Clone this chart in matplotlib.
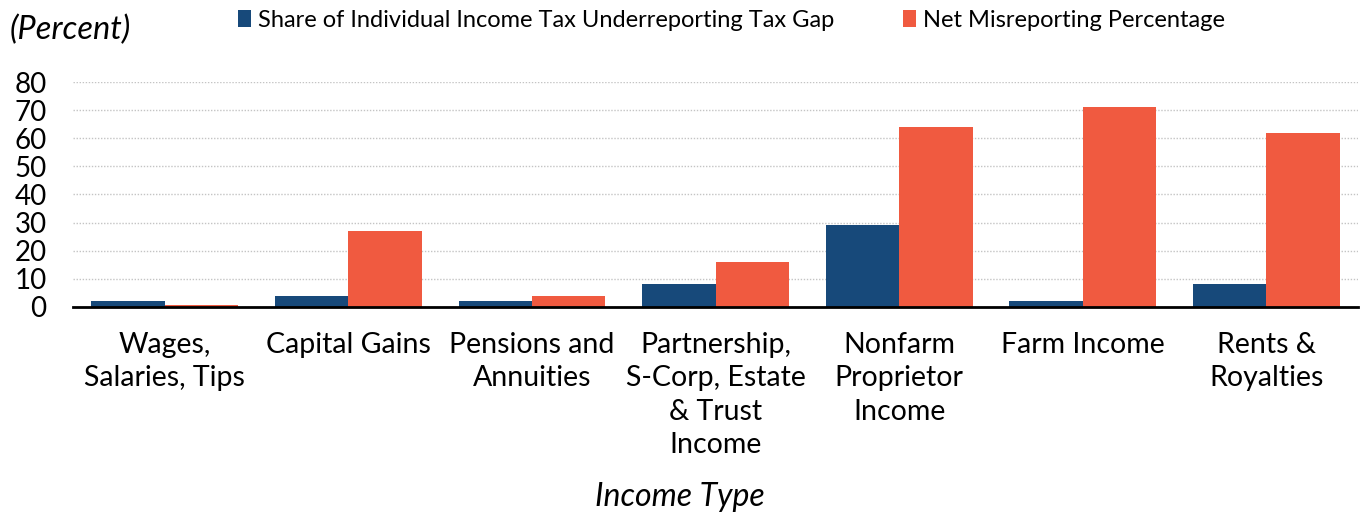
import matplotlib.pyplot as plt
import numpy as np

plt.rcParams['font.family'] = ['Lato', 'DejaVu Sans']

# Data
categories = ['Wages,\nSalaries, Tips', 'Capital Gains', 'Pensions and\nAnnuities',
              'Partnership,\nS-Corp, Estate\n& Trust\nIncome', 'Nonfarm\nProprietor\nIncome',
              'Farm Income', 'Rents &\nRoyalties']
share_gap = [2, 4, 2, 8, 29, 2, 8]
net_misreporting = [0.6, 27, 4, 16, 64, 71, 62]
yticks = [0, 10, 20, 30, 40, 50, 60, 70, 80]

blue = '#17497A'
red = '#F05A40'

fig = plt.figure(figsize=(13.7, 5.19), dpi=100)
ax = fig.add_axes([0.0533, 0.4085, 0.938, 0.4335])

x = np.arange(len(categories))
w = 0.4
b1 = ax.bar(x - w / 2, share_gap, w, color=blue,
            label='Share of Individual Income Tax Underreporting Tax Gap')
b2 = ax.bar(x + w / 2, net_misreporting, w, color=red, label='Net Misreporting Percentage')

ax.set_xlim(-0.5, 6.5)
ax.set_ylim(0, 80)
ax.set_yticks(yticks)
ax.set_xticks(x)
ax.set_xticklabels(categories, fontsize=20.5, linespacing=1.35, va='top')
ax.tick_params(axis='x', length=0, pad=18)
ax.tick_params(axis='y', length=0, pad=19, labelsize=20)

ax.yaxis.grid(True, linestyle=(0, (1, 1.2)), color='#C4C4C4', linewidth=1)
ax.set_axisbelow(True)
for s in ['top', 'right', 'left']:
    ax.spines[s].set_visible(False)
ax.spines['bottom'].set_linewidth(2)
ax.spines['bottom'].set_color('black')

fig.text(0.496, 0.042, 'Income Type', fontsize=23, style='italic', ha='center', va='center')
fig.text(0.007, 0.942, '(Percent)', fontsize=23.5, style='italic', va='center')

fig.legend(handles=[b1, b2], loc='center', bbox_to_anchor=(0.534, 0.961), ncol=2,
           frameon=False, fontsize=17, handlelength=0.55, handleheight=0.7,
           handletextpad=0.3, columnspacing=2.9)

fig.savefig('out.png', dpi=100)
